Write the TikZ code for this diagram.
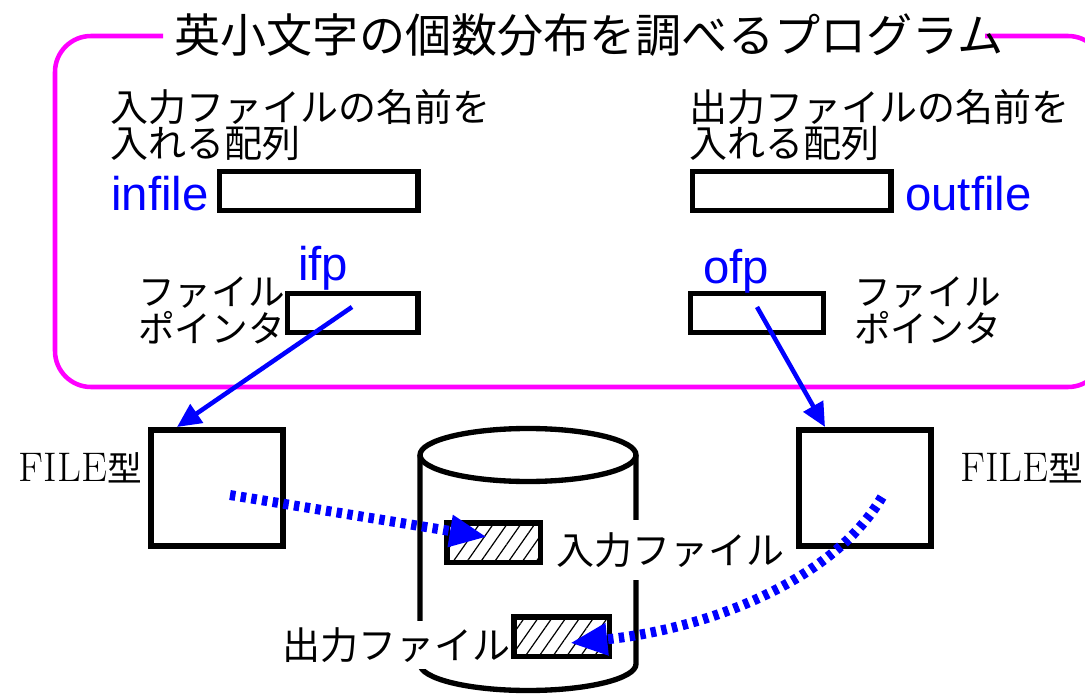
\documentclass[tikz,border=0pt]{standalone}
\usepackage{fontspec}
\newfontfamily\jp{Noto Sans CJK JP}
\newfontfamily\lat{Liberation Sans}
\usetikzlibrary{arrows.meta,patterns.meta}
\definecolor{mag}{RGB}{255,0,255}
\definecolor{blu}{RGB}{0,0,255}
\begin{document}
\begin{tikzpicture}[x=0.75pt,y=-0.75pt,
  jptext/.style={font=\jp\fontsize{28.5}{25.5}\selectfont, inner sep=0pt, align=left},
  jptextb/.style={font=\jp\fontsize{27.5}{27.75}\selectfont, inner sep=0pt, align=left},
  bluelabel/.style={font=\lat\fontsize{35.5}{40}\selectfont, text=blu, inner sep=0pt},
  varbox/.style={draw=black, line width=4pt, minimum height=29pt, inner sep=0pt},
  filebox/.style={draw=black, line width=4pt, minimum width=99pt, minimum height=87pt, inner sep=0pt},
  hatchbox/.style={draw=black, line width=4pt, minimum height=29.5pt, inner sep=0pt,
    pattern={Lines[angle=55,distance=8.5pt,line width=0.9pt]}},
  ptrarrow/.style={blu, line width=3.4pt, -{Triangle[length=18pt,width=16.5pt]}},
  dotarrow/.style={blu, line width=7.5pt, dash pattern=on 4.1pt off 4pt,
    -{Triangle[length=28pt,width=22.5pt]}},
  cyl/.style={line width=4pt}
]
\clip (0,0) rectangle (1085,695);
\fill[white] (0,0) rectangle (1085,695);

% frame
\draw[mag, line width=3.4pt, rounded corners=27pt]
  (985,36) -- (1104,36) -- (1104,387) -- (55,387) -- (55,36) -- (163,36);
\node[font=\jp\fontsize{34.6}{40}\selectfont, inner sep=0pt] (title) at (589,35)
  {英小文字の個数分布を調べるプログラム};

% labels in frame
\node[jptext, anchor=north west] (inname) at (110,89) {入力ファイルの名前を\\入れる配列};
\node[jptext, anchor=north west] (outname) at (689,89) {出力ファイルの名前を\\入れる配列};

\node[varbox, minimum width=149pt] (infile) at (318.5,191) {};
\node[varbox, minimum width=149pt] (outfile) at (791.5,191) {};
\node[bluelabel, anchor=east] (infilelbl) at (209,194) {infile};
\node[bluelabel, anchor=west] (outfilelbl) at (905,194) {outfile};

\node[varbox, minimum width=98pt] (ifp) at (352.5,313) {};
\node[varbox, minimum width=100pt] (ofp) at (757,313) {};
\node[bluelabel] (ifplbl) at (323,268) {ifp};
\node[bluelabel] (ofplbl) at (736,271) {ofp};

\node[jptextb, anchor=north west] (ptrL) at (138,277) {ファイル\\ポインタ};
\node[jptextb, anchor=north west] (ptrR) at (854,277) {ファイル\\ポインタ};

% FILE boxes
\node[filebox] (fileL) at (217,488) {};
\node[filebox] (fileR) at (865,488) {};
\node[anchor=east, inner sep=0pt] (fileLlbl) at (142,468)
  {\fontsize{31}{32}\selectfont FILE{\jp\fontsize{26}{30}\selectfont 型}};
\node[anchor=west, inner sep=0pt] (fileRlbl) at (960,468)
  {\fontsize{31}{32}\selectfont FILE{\jp\fontsize{26}{30}\selectfont 型}};

% cylinder
\draw[cyl] (528,455) ellipse [x radius=108, y radius=26.5];
\draw[cyl] (420,455) -- (420,664) arc[start angle=180, end angle=0, x radius=108, y radius=26.5] -- (636,455);
\node[jptext, fill=white, inner ysep=9pt, anchor=west] (inlbl) at (556,550) {入力ファイル};
\node[jptext, fill=white, inner ysep=5pt, anchor=east] (outlbl) at (511,645) {出力ファイル};

\node[hatchbox, minimum width=70pt] (hin) at (493.5,542.5) {};
\node[hatchbox, minimum width=71.5pt] (hout) at (561.5,636.5) {};

% arrows
\coordinate (ifpS) at (352,307);
\coordinate (ifpE) at (177,427);
\coordinate (ofpS) at (757,307);
\coordinate (ofpE) at (825,427);
\draw[ptrarrow] (ifpS) -- (ifpE);
\draw[ptrarrow] (ofpS) -- (ofpE);

\coordinate (d1S) at (230,495);
\coordinate (d1E) at (487,537);
\coordinate (d2S) at (882,497);
\coordinate (d2E) at (570,643);
\draw[dotarrow] (d1S) -- (d1E);
\draw[dotarrow] (d2S) .. controls (830,585) and (700,630) .. (d2E);
\end{tikzpicture}
\end{document}
